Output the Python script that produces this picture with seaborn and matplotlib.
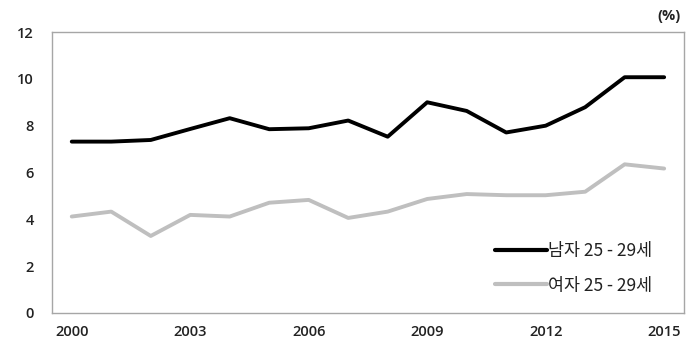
import matplotlib
matplotlib.use("Agg")
import matplotlib.pyplot as plt
import pandas as pd
import seaborn as sns

years = list(range(2000, 2016))
male = [7.32, 7.32, 7.39, 7.86, 8.32, 7.85, 7.89, 8.22, 7.53, 9.0, 8.63, 7.71, 8.0, 8.79, 10.07, 10.07]
female = [4.12, 4.33, 3.29, 4.19, 4.12, 4.71, 4.83, 4.06, 4.33, 4.87, 5.08, 5.03, 5.03, 5.18, 6.35, 6.17]
series_names = ["남자 25 - 29세", "여자 25 - 29세"]
xtick_years = [2000, 2003, 2006, 2009, 2012, 2015]
yticks = [0, 2, 4, 6, 8, 10, 12]

df = pd.DataFrame({
    "year": years * 2,
    "value": male + female,
    "group": [series_names[0]] * len(years) + [series_names[1]] * len(years),
})

sns.set_theme(style="white")
plt.rcParams["font.family"] = ["Noto Sans CJK KR", "DejaVu Sans"]

fig = plt.figure(figsize=(7, 3.56), dpi=100)
ax = fig.add_axes([0.0743, 0.1208, 0.9027, 0.7892])

sns.lineplot(data=df, x="year", y="value", hue="group",
             palette={series_names[0]: "black", series_names[1]: "#BFBFBF"},
             linewidth=2.8, ax=ax)

ax.set_xlim(1999.5, 2015.5)
ax.set_ylim(0, 12)
ax.set_xticks(xtick_years)
ax.set_yticks(yticks)
ax.set_xlabel("")
ax.set_ylabel("")
ax.tick_params(axis="both", length=0, colors="#222222")
ax.tick_params(axis="x", pad=9)
ax.tick_params(axis="y", pad=13)
for lab in ax.get_xticklabels() + ax.get_yticklabels():
    lab.set_fontfamily("Open Sans")
    lab.set_fontweight("semibold")
    lab.set_fontsize(10.5)
for s in ax.spines.values():
    s.set_color("#A6A6A6")
    s.set_linewidth(1.0)

leg = ax.legend(loc="lower right", bbox_to_anchor=(0.975, 0.01), frameon=False,
                fontsize=12.5, handlelength=3.0, handletextpad=0.05, labelspacing=0.95)
for line in leg.get_lines():
    line.set_linewidth(3)
for t in leg.get_texts():
    t.set_color("#222222")

fig.text(0.955, 0.955, "(%)", fontsize=10.5, fontweight="bold", family="Open Sans",
         ha="center", va="center", color="#222222")

fig.savefig("out.png", dpi=100)
